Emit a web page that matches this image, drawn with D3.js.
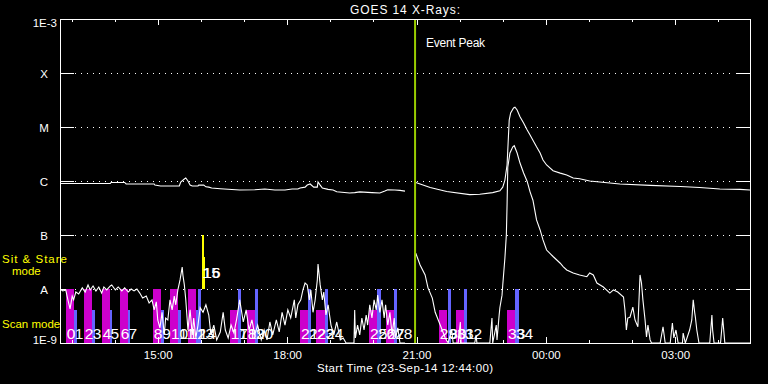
<!DOCTYPE html>
<html>
<head>
<meta charset="utf-8">
<script src="https://cdn.jsdelivr.net/npm/d3@7"></script>
<style>
  html, body { margin: 0; padding: 0; background: #000; }
  svg { display: block; font-family: "Liberation Sans", Arial, sans-serif; }
</style>
</head>
<body>
<svg id="chart" width="768" height="384"></svg>
<script>
// start of the plot, 23-Sep-14 12:44:00, 16 hours shown
const startTime = new Date(2014, 8, 23, 12, 44, 0);
const endTime = new Date(2014, 8, 24, 4, 44, 0);
const eventPeak = "20:58";

const yTickValues = [1e-9, 1e-8, 1e-7, 1e-6, 1e-5, 1e-4, 1e-3];
const yTickLabels = ["1E-9", "A", "B", "C", "M", "X", "1E-3"];

// [minutes since start, flux W/m^2]  (null = data gap)
const longFlux = [
  [0, 9.0e-7], [70, 9.0e-7], [71, 9.4e-7], [90, 9.4e-7], [92, 8.8e-7], [131, 8.8e-7],
  [132, 8.4e-7], [140, 8.1e-7], [166, 8.1e-7], [168, 9.6e-7], [173, 1.09e-6], [175, 1.14e-6],
  [178, 1.0e-6], [181, 8.4e-7], [184, 8.1e-7], [192, 8.1e-7], [193, 8.4e-7], [200, 8.4e-7],
  [203, 7.8e-7], [207, 7.7e-7], [211, 7.4e-7], [223, 7.2e-7], [250, 6.8e-7], [271, 6.9e-7],
  [285, 7.1e-7], [299, 6.8e-7], [313, 6.8e-7], [323, 7.1e-7], [331, 7.1e-7], [334, 7.4e-7],
  [341, 7.7e-7], [344, 8.4e-7], [348, 8.8e-7], [353, 7.7e-7], [358, 7.7e-7], [359, 9.6e-7],
  [362, 8.4e-7], [365, 7.4e-7], [373, 7.0e-7], [380, 6.8e-7], [385, 6.3e-7], [403, 6.0e-7],
  [410, 6.1e-7], [417, 6.3e-7], [434, 6.1e-7], [445, 6.0e-7], [452, 6.5e-7], [456, 6.9e-7],
  [466, 6.8e-7], [473, 6.7e-7], [480, 6.5e-7], [485, null],
  [495, 9.4e-7], [501, 8.8e-7], [515, 7.6e-7], [538, 6.4e-7], [570, 5.6e-7], [584, 5.7e-7],
  [602, 6.1e-7], [612, 6.6e-7], [616, 7.7e-7], [619, 1.04e-6], [622, 1.98e-6], [625, 1.35e-5],
  [627, 1.82e-5], [631, 2.25e-5], [633, 2.32e-5], [636, 2.07e-5], [640, 1.55e-5], [645, 1.19e-5],
  [650, 8.8e-6], [654, 7.1e-6], [658, 5.7e-6], [663, 4.3e-6], [668, 3.3e-6], [672, 2.45e-6],
  [677, 1.98e-6], [686, 1.55e-6], [696, 1.4e-6], [705, 1.29e-6], [714, 1.14e-6], [723, 1.1e-6],
  [737, 1.0e-6], [751, 9.6e-7], [779, 8.8e-7], [821, 8.3e-7], [863, 7.9e-7], [890, 7.6e-7],
  [918, 7.1e-7], [946, 7.0e-7], [960, 6.8e-7]
];

const shortFlux = [
  [0, 1.0e-8], [4, 9.2e-9], [8, 9.6e-9], [11, 6.3e-9], [14, 4.3e-9], [17, 7.4e-9], [19, 6.3e-9],
  [22, 8.8e-9], [26, 8.1e-9], [31, 1.05e-8], [35, 8.8e-9], [39, 1.19e-8], [42, 9.6e-9],
  [46, 1.14e-8], [50, 9.2e-9], [54, 1.09e-8], [58, 8.4e-9], [61, 1.09e-8], [65, 9.6e-9],
  [70, 1.14e-8], [72, 1.19e-8], [77, 9.6e-9], [81, 1.09e-8], [86, 9.2e-9], [90, 1.05e-8],
  [95, 8.8e-9], [99, 1.0e-8], [103, 9.2e-9], [107, 1.0e-8], [111, 8.4e-9], [115, 6.8e-9],
  [120, 7.4e-9], [124, 5.5e-9], [128, 6.3e-9], [131, 4.1e-9], [134, 5.8e-9], [136, 2.67e-9],
  [139, 1.9e-9], [142, 3.7e-9], [145, 1.41e-9], [147, 2.9e-9], [150, 2.67e-9], [153, 6.3e-9],
  [156, 4.1e-9], [159, 7.4e-9], [161, 5.1e-9], [164, 9.6e-9], [167, 1.47e-8], [170, 2.55e-8],
  [171, 1.82e-8], [173, 1.19e-8], [175, 6.3e-9], [178, 1.74e-9], [181, 4.1e-9], [184, 1.41e-9],
  [186, 2.9e-9], [189, 1.24e-9], [192, 2.15e-9], [195, 4.5e-9], [199, 3.7e-9], [203, 5.1e-9],
  [207, 3.3e-9], [210, 1.41e-9], [214, 2.15e-9], [218, 1.14e-9], [223, 1.6e-9], [227, 3.7e-9],
  [230, 1.74e-9], [234, 1.24e-9], [238, 2.15e-9], [242, 1.53e-9], [246, 2.9e-9], [250, 6.3e-9],
  [255, 2.45e-9], [259, 4.1e-9], [263, 1.74e-9], [267, 2.67e-9], [271, 1.41e-9], [275, 2.15e-9],
  [280, 1.14e-9], [284, 1.74e-9], [288, 1.14e-9], [292, 2.45e-9], [296, 1.41e-9], [301, 2.67e-9],
  [305, 1.6e-9], [309, 3.7e-9], [313, 2.15e-9], [317, 4.1e-9], [321, 2.9e-9], [326, 6.3e-9],
  [328, 2.9e-9], [331, 5.1e-9], [335, 6.3e-9], [338, 9.6e-9], [341, 1.29e-8], [344, 1.19e-8],
  [347, 6.3e-9], [349, 9.6e-9], [352, 3.7e-9], [355, 6.3e-9], [358, 1.47e-8], [359, 2.9e-8],
  [362, 1.19e-8], [365, 6.3e-9], [367, 8.8e-9], [370, 3.3e-9], [373, 5.1e-9], [377, 2.15e-9],
  [381, 1.41e-9], [385, 2.45e-9], [390, 1.14e-9], [394, 1.24e-9], [398, 1.0e-9], [409, 1.0e-9],
  [410, 4.1e-9], [411, 1.24e-9], [414, 2.15e-9], [417, 1.41e-9], [420, 2.9e-9], [423, 1.74e-9],
  [426, 3.3e-9], [428, 2.15e-9], [431, 5.1e-9], [434, 2.9e-9], [437, 6.3e-9], [440, 4.1e-9],
  [442, 7.7e-9], [445, 3.7e-9], [448, 6.3e-9], [451, 2.9e-9], [453, 5.1e-9], [456, 2.15e-9],
  [459, 3.7e-9], [462, 1.41e-9], [465, 2.9e-9], [467, 1.24e-9], [470, 1.9e-9], [473, 1.0e-9],
  [480, 1.0e-9], [485, null],
  [495, 4.6e-8], [501, 2.78e-8], [508, 1.82e-8], [512, 1.05e-8], [518, 6.8e-9], [522, 3.7e-9],
  [529, 2.15e-9], [536, 1.24e-9], [540, 1.0e-9], [545, 1.74e-9], [547, 1.0e-9], [554, 1.0e-9],
  [557, 2.45e-9], [558, 1.0e-9], [577, 1.0e-9], [579, 1.41e-9], [580, 1.0e-9], [598, 1.0e-9],
  [601, 2.9e-9], [602, 1.0e-9], [607, 2.15e-9], [608, 1.14e-9], [611, 3.3e-9], [612, 4.5e-9],
  [615, 7.7e-9], [616, 1.19e-8], [619, 3.75e-8], [621, 1.0e-7], [622, 3.6e-7], [623, 1.8e-6],
  [626, 3.3e-6], [630, 4.3e-6], [632, 4.5e-6], [636, 3.3e-6], [640, 2.15e-6], [645, 1.41e-6],
  [650, 9.8e-7], [654, 6.3e-7], [658, 4.4e-7], [663, 1.9e-7], [668, 1.24e-7], [672, 8.1e-8],
  [677, 5.27e-8], [686, 4.0e-8], [696, 3.0e-8], [700, 2.6e-8], [705, 2.25e-8], [714, 1.98e-8],
  [723, 1.82e-8], [733, 1.69e-8], [737, 1.98e-8], [742, 1.82e-8], [747, 1.29e-8], [756, 1.09e-8],
  [765, 8.4e-9], [770, 9.6e-9], [776, 8.8e-9], [784, 7.1e-9], [786, 4.1e-9], [788, 1.74e-9],
  [790, 2.9e-9], [793, 3.0e-9], [797, 4.6e-9], [800, 2.67e-9], [804, 2.0e-9], [807, 1.82e-8],
  [809, 1.29e-8], [811, 6.3e-9], [814, 2.67e-9], [816, 1.29e-9], [818, 2.15e-9], [821, 1.14e-9],
  [823, 1.0e-9], [835, 1.0e-9], [839, 2.0e-9], [842, 1.0e-9], [849, 1.0e-9], [852, 2.35e-9],
  [854, 1.24e-9], [857, 1.74e-9], [860, 1.0e-9], [866, 1.0e-9], [867, 1.53e-9], [870, 1.0e-9],
  [876, 1.74e-9], [879, 2.67e-9], [881, 6.3e-9], [883, 3.7e-9], [884, 3.0e-9], [886, 1.74e-9],
  [889, 1.0e-9], [904, 1.0e-9], [907, 3.3e-9], [908, 1.74e-9], [910, 1.0e-9], [919, 1.0e-9],
  [922, 2.9e-9], [925, 1.0e-9], [960, 1.0e-9]
];

// observations: start clock, duration (min), colour class, top flux
const obsStart = ["12:52","13:03","13:17","13:28","13:42","13:53","14:07","14:18",
  "14:53","15:05","15:17","15:28","15:42","15:53","15:56","16:01","16:02",
  "16:40","16:52","17:04","17:15","18:18","18:29","18:40","18:53",
  "19:54","20:05","20:18","20:29","21:31","21:44","21:55","22:06","23:06","23:17"];
const obsDur = [11,4,11,4,11,4,11,4, 12,4,11,4,11,3,4,3,4, 11,4,11,4,11,4,12,4, 11,5,11,4,12,4,11,4,11,5];
const obsKind = ["m","b","m","b","m","b","m","b", "m","b","m","b","m","b","b","y","y",
  "m","b","m","b","m","b","m","b", "m","b","m","b","m","b","m","b","m","b"];
const obsTop = [1e-8,4e-9,1e-8,4e-9,1e-8,4e-9,1e-8,4e-9,
  1e-8,4e-9,1e-8,4e-9,1e-8,4e-9,1e-8,1e-7,3.9e-8,
  4e-9,1e-8,4e-9,1e-8,4e-9,1e-8,4e-9,1e-8,
  4e-9,1e-8,4e-9,1e-8,4e-9,1e-8,4e-9,1e-8,4e-9,1e-8];

const colors = { m: "#cc00cc", b: "#6464ff", y: "#ffff00" };

const mLeft = 60, mRight = 750, mTop = 19, mBottom = 343;
const svg = d3.select("#chart");
svg.append("rect").attr("width", 768).attr("height", 384).attr("fill", "#000");

const x = d3.scaleTime().domain([startTime, endTime]).range([mLeft, mRight]);
const y = d3.scaleLog().domain([1e-9, 1e-3]).range([mBottom, mTop]).clamp(true);

const minToDate = m => d3.timeMinute.offset(startTime, m);
const clockToDate = s => {
  const [h, mm] = s.split(":").map(Number);
  let d = new Date(startTime);
  d.setHours(h, mm, 0, 0);
  if (d < startTime) d = d3.timeDay.offset(d, 1);
  return d;
};

svg.append("clipPath").attr("id", "plot")
  .append("rect").attr("x", mLeft).attr("y", mTop).attr("width", mRight - mLeft).attr("height", mBottom - mTop);

// grid: dotted lines with solid ends
const grid = svg.append("g").attr("shape-rendering", "crispEdges");
yTickValues.slice(1, -1).forEach(v => {
  const yy = Math.round(y(v)) + 0.5;
  grid.append("line").attr("x1", mLeft + 15).attr("x2", mRight - 15).attr("y1", yy).attr("y2", yy)
    .attr("stroke", "#fff").attr("stroke-dasharray", "1,5");
  grid.append("line").attr("x1", mLeft).attr("x2", mLeft + 14).attr("y1", yy).attr("y2", yy).attr("stroke", "#fff");
  grid.append("line").attr("x1", mRight - 14).attr("x2", mRight).attr("y1", yy).attr("y2", yy).attr("stroke", "#fff");
});

// observation bars
const obs = obsStart.map((s, i) => ({
  id: i, start: clockToDate(s), end: d3.timeMinute.offset(clockToDate(s), obsDur[i]),
  kind: obsKind[i], mode: obsKind[i] === "y" ? "sit" : "scan", topFlux: obsTop[i]
}));

svg.append("g").attr("shape-rendering", "crispEdges")
  .selectAll("rect").data(obs).join("rect")
  .attr("x", d => x(d.start))
  .attr("width", d => Math.max(2, x(d.end) - x(d.start)))
  .attr("y", d => y(d.topFlux))
  .attr("height", d => y(d.mode === "sit" ? 1e-8 : 1e-9) - y(d.topFlux))
  .attr("fill", d => colors[d.kind]);

// flux curves
const line = d3.line()
  .defined(d => d[1] != null)
  .x(d => x(minToDate(d[0])))
  .y(d => y(d[1]));

const curves = svg.append("g").attr("clip-path", "url(#plot)");
[longFlux, shortFlux].forEach(series => {
  curves.append("path").datum(series).attr("d", line)
    .attr("fill", "none").attr("stroke", "#fff").attr("stroke-width", 1.1);
});

// observation numbers
svg.append("g").attr("fill", "#fff").selectAll("text").data(obs).join("text")
  .attr("x", d => x(d.start) + 1)
  .attr("y", d => y(d.mode === "sit" ? 1.6e-8 : 1.2e-9))
  .attr("font-size", 15.5)
  .text(d => d.id);

// event peak
const ex = x(clockToDate(eventPeak));
svg.append("line").attr("x1", ex).attr("x2", ex).attr("y1", mTop).attr("y2", mBottom)
  .attr("stroke", "#99cc00").attr("stroke-width", 2);
svg.append("text").attr("x", ex + 11).attr("y", 47).attr("font-size", 12)
  .attr("textLength", 59).attr("fill", "#fff").text("Event Peak");

// frame
svg.append("rect").attr("x", mLeft + 0.5).attr("y", mTop + 0.5)
  .attr("width", mRight - mLeft).attr("height", mBottom - mTop)
  .attr("fill", "none").attr("stroke", "#fff").attr("shape-rendering", "crispEdges");

// time ticks top and bottom
const ticks = svg.append("g").attr("stroke", "#fff").attr("shape-rendering", "crispEdges");
x.ticks(d3.timeHour.every(1)).forEach(t => {
  const xx = Math.round(x(t)) + 0.5;
  const len = t.getHours() % 3 === 0 ? 6 : 3;
  ticks.append("line").attr("x1", xx).attr("x2", xx).attr("y1", mTop).attr("y2", mTop + len);
  ticks.append("line").attr("x1", xx).attr("x2", xx).attr("y1", mBottom).attr("y2", mBottom - len);
});

const xAxis = svg.append("g").attr("transform", `translate(0,${mBottom})`)
  .call(d3.axisBottom(x).ticks(d3.timeHour.every(3)).tickFormat(d3.timeFormat("%H:%M")).tickSize(0).tickPadding(8));
xAxis.select(".domain").remove();
xAxis.selectAll("text").attr("font-size", 11.5).attr("font-family", "Liberation Sans, Arial, sans-serif").attr("fill", "#fff");

// y labels
const last = yTickValues.length - 1;
svg.append("g").attr("fill", "#fff").selectAll("text").data(yTickValues).join("text")
  .attr("x", (d, i) => (i === 0 || i === last) ? 57 : 44)
  .attr("y", (d, i) => y(d) + (i === 0 ? 1 : i === last ? 8 : 4.5))
  .attr("text-anchor", (d, i) => (i === 0 || i === last) ? "end" : "middle")
  .attr("font-size", 11.5)
  .text((d, i) => yTickLabels[i]);

// titles
svg.append("text").attr("x", (mLeft + mRight) / 2).attr("y", 14).attr("text-anchor", "middle")
  .attr("font-size", 12).attr("textLength", 110).attr("fill", "#fff").text("GOES 14 X-Rays:");
svg.append("text").attr("x", (mLeft + mRight) / 2).attr("y", 372).attr("text-anchor", "middle")
  .attr("font-size", 11.5).attr("textLength", 176).attr("fill", "#fff").text("Start Time (23-Sep-14 12:44:00)");

// mode labels
const modeText = svg.append("g").attr("font-size", 11.5).attr("fill", "#ffff00");
modeText.append("text").attr("x", 2).attr("y", 263).attr("textLength", 65).text("Sit & Stare");
modeText.append("text").attr("x", 12).attr("y", 275).text("mode");
modeText.append("text").attr("x", 2).attr("y", 328).text("Scan mode");
</script>
</body>
</html>
